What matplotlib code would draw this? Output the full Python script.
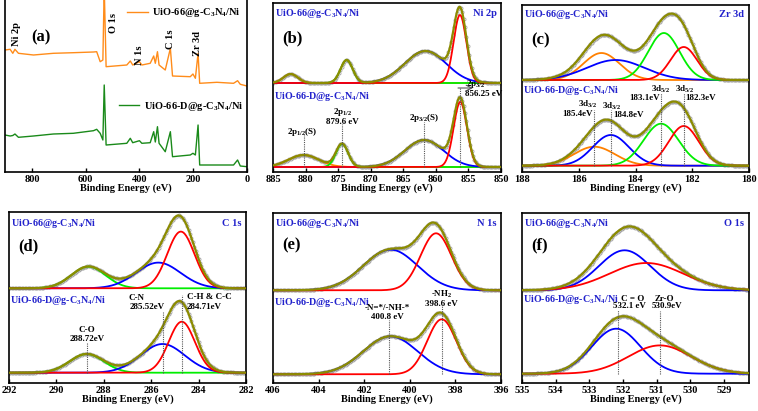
import numpy as np
import matplotlib.pyplot as plt

plt.rcParams['font.family'] = 'Liberation Serif'
plt.rcParams['font.weight'] = 'bold'
plt.rcParams['mathtext.fontset'] = 'custom'
plt.rcParams['mathtext.rm'] = 'Liberation Serif:bold'
plt.rcParams['mathtext.it'] = 'Liberation Serif:italic:bold'
plt.rcParams['mathtext.bf'] = 'Liberation Serif:bold'

S1 = "UiO-66@g-C$_3$N$_4$/Ni"
S2 = "UiO-66-D@g-C$_3$N$_4$/Ni"

ORANGE, GREEN, BLUE, RED = "#ff8000", "#00ee00", "#0000ff", "#ff0000"
ENV, GRAY, LBLUE = "#8c8c00", "#a0a0a0", "#2222cc"

# ---- (a) survey spectra ----
survey_be = [900, 881, 871, 863, 850, 794, 720, 646, 571, 559, 546, 536, 531, 524,
             447, 434, 425, 400, 391, 360, 347, 341, 333, 327, 304, 285, 277, 211,
             201, 192, 182, 176, 112, 50, 35, 25, 0]
survey_top = [122, 122.7, 118.7, 122.7, 118.7, 117, 118.7, 119.3, 120, 120.3, 110.3, 112, 185, 105.3,
              107, 111, 107, 110.3, 107, 108.7, 116, 108.7, 120.3, 107, 102, 123.7, 96, 95.3,
              98, 93.7, 118.7, 88.7, 89.7, 88.7, 91.3, 87.7, 86]
survey_bot = [37, 36, 36.5, 38, 34.7, 36, 38, 38.7, 41.3, 42.7, 38.7, 32, 87, 27,
              28.7, 33.7, 29.3, 31.3, 28.7, 29.3, 40.3, 30, 45.3, 28.7, 20.3, 40.3, 15.3, 17,
              18.7, 17, 47, 7, 7, 7, 12, 6, 5.3]

# ---- fitted components: centre (eV), height, FWHM ----
ni_colors = [ORANGE, GREEN, BLUE, RED]
ni_top = dict(base=89, c=[882.3, 873.7, 861.6, 856.3], h=[9, 23, 32, 68], w=[2.6, 2.2, 7.5, 2.3])
ni_bot = dict(base=5, c=[880.3, 874.4, 861.8, 856.25], h=[12, 23, 27, 65], w=[5.5, 2.2, 7.0, 2.4])

zr_colors = [ORANGE, BLUE, GREEN, RED]
zr_top = dict(base=92, c=[185.2, 184.7, 183.0, 182.3], h=[27, 20, 47, 33], w=[1.5, 2.4, 1.3, 1.1])
zr_bot = dict(base=6.3, c=[185.45, 184.87, 183.1, 182.3], h=[19, 30.7, 42, 39.7], w=[1.7, 1.5, 1.45, 1.25])

c_colors = [GREEN, BLUE, RED]
c_top = dict(base=94.7, c=[288.65, 285.7, 284.75], h=[21.7, 25.7, 56.7], w=[1.7, 2.2, 1.35])
c_bot = dict(base=10.3, c=[288.72, 285.52, 284.71], h=[18.7, 28.7, 51], w=[1.7, 2.2, 1.3])

n_colors = [BLUE, RED]
n_top = dict(base=92.7, c=[400.85, 398.85], h=[40.7, 57], w=[2.8, 1.6])
n_bot = dict(base=8.7, c=[400.85, 398.6], h=[38, 55], w=[2.8, 1.5])

o_colors = [BLUE, RED]
o_top = dict(base=92.7, c=[531.95, 531.3], h=[40, 27.3], w=[1.8, 2.6])
o_bot = dict(base=9.3, c=[532.2, 530.9], h=[45, 28.3], w=[1.7, 2.2])

W, H = 758, 411
fig = plt.figure(figsize=(W / 100, H / 100), dpi=100)


def add_ax(l, t, r, b):
    return fig.add_axes([l / W, 1 - b / H, (r - l) / W, (b - t) / H])


def gauss(x, c, h, w):
    return h * np.exp(-4 * np.log(2) * (x - c) ** 2 / w ** 2)


def draw_fit(ax, x, fit, colors):
    env = np.zeros_like(x)
    comps = []
    for c, h, w in zip(fit["c"], fit["h"], fit["w"]):
        g = gauss(x, c, h, w)
        env += g
        comps.append(g)
    ax.plot(x[::3], fit["base"] + env[::3], "o", ms=2.2, mfc="none", mec=GRAY, mew=0.6, zorder=1)
    for g, col in zip(comps, colors):
        ax.plot(x, fit["base"] + g, color=col, lw=1.3, zorder=2)
    ax.plot(x, fit["base"] + env, color=ENV, lw=1.6, zorder=3)


def style(ax, xlim, ticks, ymax):
    ax.set_xlim(*xlim)
    ax.set_ylim(0, ymax)
    ax.set_xticks(ticks)
    ax.set_yticks([])
    ax.tick_params(axis="x", direction="in", length=3, width=1, labelsize=7.5, pad=2)
    for lab in ax.get_xticklabels():
        lab.set_fontweight("bold")
    for s in ax.spines.values():
        s.set_linewidth(1.2)
    ax.set_xlabel("Binding Energy (eV)", fontsize=7.5, fontweight="bold", labelpad=0)


def headers(ax, tag, name, y1, y2, ytag):
    ax.text(0.01, y1, S1, transform=ax.transAxes, color=LBLUE, fontsize=7.2, va="center")
    ax.text(0.98, y1, name, transform=ax.transAxes, color=LBLUE, fontsize=7.5, va="center", ha="right")
    ax.text(0.04, ytag, tag, transform=ax.transAxes, fontsize=12, va="center")
    ax.text(0.005, y2, S2, transform=ax.transAxes, color=LBLUE, fontsize=7.2, va="center")


def marks(ax, xs, base, tops):
    ax.vlines(xs, base, tops, colors="#555555", linestyles=(0, (1, 1)), lw=0.8, zorder=4)


fs = 6.5

# (a)
ax = add_ax(5, 0, 247, 172)
ax.plot(survey_be, survey_top, color="#ff8c1a", lw=1, label=S1)
ax.plot(survey_be, survey_bot, color="#1a8a1a", lw=1, label=S2)
style(ax, (900, 0), [800, 600, 400, 200, 0], 172)
ax.spines["top"].set_visible(False)
h1, h2 = ax.get_lines()
leg = ax.legend(handles=[h1], loc="center right", bbox_to_anchor=(1.0, 0.926), frameon=False,
                fontsize=7.5, handlelength=2, handletextpad=0.4, borderaxespad=0.2)
ax.add_artist(leg)
ax.legend(handles=[h2], loc="center right", bbox_to_anchor=(1.01, 0.38), frameon=False,
          fontsize=7.5, handlelength=2, handletextpad=0.4, borderaxespad=0.2)
for lab, x, y in [("Ni 2p", 857, 138), ("O 1s", 497, 149), ("N 1s", 400, 117),
                  ("C 1s", 285, 133), ("Zr 3d", 184, 128)]:
    ax.text(x, y, lab, rotation=90, ha="center", va="center", fontsize=7.5)
ax.text(767, 135, "(a)", ha="center", va="center", fontsize=12)

# (b) Ni 2p
ax = add_ax(273, 3, 501, 172)
x = np.linspace(885, 850, 500)
draw_fit(ax, x, ni_top, ni_colors)
draw_fit(ax, x, ni_bot, ni_colors)
style(ax, (885, 850), list(range(885, 849, -5)), 169)
headers(ax, "(b)", "Ni 2p", 0.935, 0.445, 0.79)
marks(ax, [880.3, 874.4, 861.8, 856.25], 5, [37, 48, 50, 84])
ax.text(880.5, 40.3, "2p$_{1/2}$(S)", ha="center", va="center", fontsize=fs)
ax.text(874.3, 59.5, "2p$_{1/2}$", ha="center", va="center", fontsize=fs)
ax.text(874.3, 50.0, "879.6 eV", ha="center", va="center", fontsize=fs)
ax.text(861.8, 53.7, "2p$_{3/2}$(S)", ha="center", va="center", fontsize=fs)
ax.text(855.3, 88.5, "2p$_{3/2}$", ha="left", va="center", fontsize=fs)
ax.text(855.6, 77.5, "856.25 eV", ha="left", va="center", fontsize=fs)
ax.annotate("", xy=(854.3, 84), xytext=(856.6, 84),
            arrowprops=dict(arrowstyle="->", color="#555555", lw=0.8, shrinkA=0, shrinkB=0))

# (c) Zr 3d
ax = add_ax(522, 5, 749, 172)
x = np.linspace(188, 180, 500)
draw_fit(ax, x, zr_top, zr_colors)
draw_fit(ax, x, zr_bot, zr_colors)
style(ax, (188, 180), [188, 186, 184, 182, 180], 167)
headers(ax, "(c)", "Zr 3d", 0.946, 0.49, 0.787)
marks(ax, [185.45, 184.87, 183.1, 182.3], 6.3, [62, 62, 79, 79])
ax.text(185.67, 67.5, "3d$_{3/2}$", ha="center", va="center", fontsize=fs)
ax.text(185.5, 58.0, "185.4eV", ha="right", va="center", fontsize=fs)
ax.text(184.85, 66, "3d$_{3/2}$", ha="center", va="center", fontsize=fs)
ax.text(184.8, 56.5, "184.8eV", ha="left", va="center", fontsize=fs)
ax.text(183.1, 83, "3d$_{5/2}$", ha="center", va="center", fontsize=fs)
ax.text(183.15, 73.5, "183.1eV", ha="right", va="center", fontsize=fs)
ax.text(182.27, 83, "3d$_{5/2}$", ha="center", va="center", fontsize=fs)
ax.text(182.25, 73.5, "182.3eV", ha="left", va="center", fontsize=fs)

# (d) C 1s
ax = add_ax(9, 212, 246, 383)
x = np.linspace(292, 282, 500)
draw_fit(ax, x, c_top, c_colors)
draw_fit(ax, x, c_bot, c_colors)
style(ax, (292, 282), [292, 290, 288, 286, 284, 282], 171)
headers(ax, "(d)", "C 1s", 0.934, 0.485, 0.797)
marks(ax, [288.72, 285.52, 284.71], 10.3, [40, 71, 88])
ax.text(288.72, 53, "C-O", ha="center", va="center", fontsize=fs)
ax.text(288.72, 44, "288.72eV", ha="center", va="center", fontsize=fs)
ax.text(286.6, 84.7, "C-N", ha="center", va="center", fontsize=fs)
ax.text(285.45, 75.7, "285.52eV", ha="right", va="center", fontsize=fs)
ax.text(284.5, 85.7, "C-H & C-C", ha="left", va="center", fontsize=fs)
ax.text(284.5, 76.3, "284.71eV", ha="left", va="center", fontsize=fs)

# (e) N 1s
ax = add_ax(273, 213, 501, 383)
x = np.linspace(406, 396, 500)
draw_fit(ax, x, n_top, n_colors)
draw_fit(ax, x, n_bot, n_colors)
style(ax, (406, 396), [406, 404, 402, 400, 398, 396], 170)
headers(ax, "(e)", "N 1s", 0.94, 0.476, 0.81)
marks(ax, [400.9, 398.6], 8.7, [63, 77])
ax.text(401.0, 75.5, "-N=*/-NH-*", ha="center", va="center", fontsize=fs)
ax.text(401.0, 66, "400.8 eV", ha="center", va="center", fontsize=fs)
ax.text(398.6, 88.5, "-NH$_2$", ha="center", va="center", fontsize=fs)
ax.text(398.6, 79.5, "398.6 eV", ha="center", va="center", fontsize=fs)

# (f) O 1s
ax = add_ax(522, 213, 749, 383)
x = np.linspace(535, 528.25, 500)
draw_fit(ax, x, o_top, o_colors)
draw_fit(ax, x, o_bot, o_colors)
style(ax, (535, 528.25), [535, 534, 533, 532, 531, 530, 529], 170)
headers(ax, "(f)", "O 1s", 0.94, 0.49, 0.81)
marks(ax, [532.15, 530.9], 9.3, [73, 72])
ax.text(531.72, 84.4, "C = O", ha="center", va="center", fontsize=fs)
ax.text(531.8, 76.7, "532.1 eV", ha="center", va="center", fontsize=fs)
ax.text(530.75, 84.4, "Zr-O", ha="center", va="center", fontsize=fs)
ax.text(530.7, 76.7, "530.9eV", ha="center", va="center", fontsize=fs)

fig.savefig("out.png", dpi=100)
